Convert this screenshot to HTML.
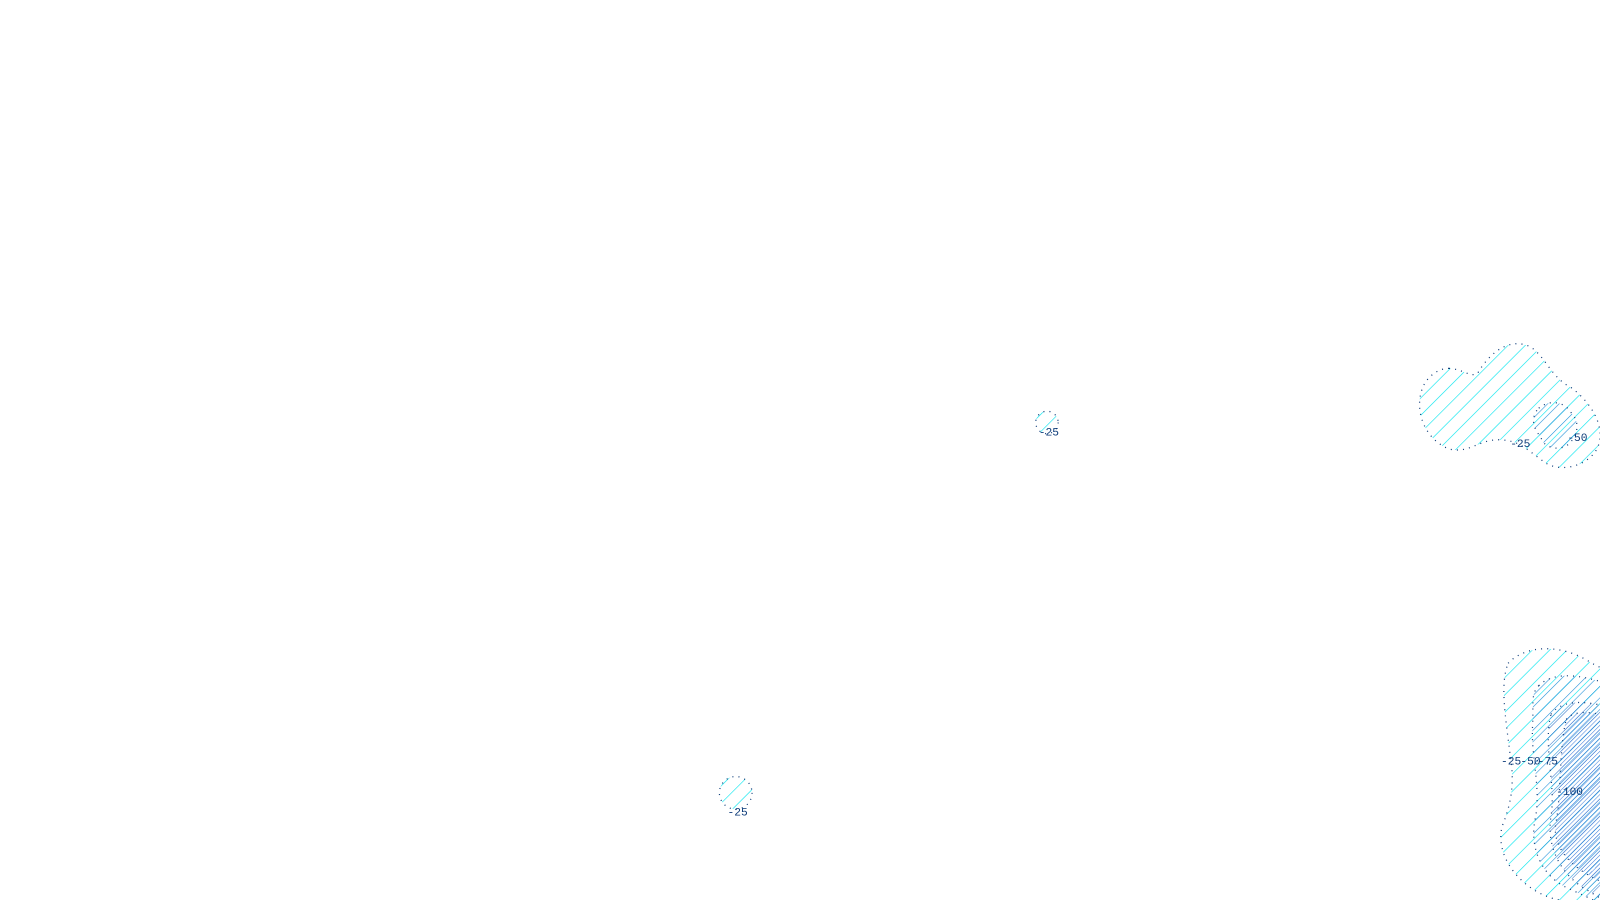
<!DOCTYPE html>
<html><head><meta charset="utf-8"><style>html,body{margin:0;padding:0;background:#fff;overflow:hidden}svg{display:block}</style></head>
<body>
<svg width="1600" height="900" viewBox="0 0 1600 900" xmlns="http://www.w3.org/2000/svg">
<defs>
<pattern id="h1" patternUnits="userSpaceOnUse" width="12" height="12" patternTransform="rotate(45)">
<line x1="0" y1="0" x2="0" y2="12" stroke="#00e5ee" stroke-width="1.2"/></pattern>
<pattern id="h2" patternUnits="userSpaceOnUse" width="8" height="8" patternTransform="rotate(45)">
<line x1="0" y1="0" x2="0" y2="8" stroke="#1e8fd8" stroke-width="1.1"/></pattern>
<pattern id="h3" patternUnits="userSpaceOnUse" width="6" height="6" patternTransform="rotate(45)">
<line x1="0" y1="0" x2="0" y2="6" stroke="#2a6fc8" stroke-width="1"/></pattern>
<pattern id="h4" patternUnits="userSpaceOnUse" width="3" height="3" patternTransform="rotate(45)">
<line x1="0" y1="0" x2="0" y2="3" stroke="#3a7ad8" stroke-width="1"/></pattern>
</defs>
<g transform="scale(1.0204)">
<g stroke="#0b3a78" stroke-width="1.2" stroke-dasharray="1 5">
<circle cx="1026" cy="414" r="11" fill="url(#h1)"/>
<circle cx="721" cy="777" r="16" fill="url(#h1)"/>
<path d="M1420,361 C1435,362 1440,370 1448,366 C1460,345 1480,330 1500,340 C1515,350 1520,370 1540,380 C1560,395 1575,420 1565,440 C1555,458 1525,465 1510,450 C1495,440 1490,432 1470,431 C1450,430 1440,445 1420,440 C1395,430 1385,400 1395,378 C1400,368 1410,361 1420,361 Z" fill="url(#h1)"/>
<path d="M1508,400 C1520,390 1535,395 1540,405 C1550,415 1545,430 1535,437 C1525,442 1512,438 1510,428 C1502,420 1500,408 1508,400 Z" fill="url(#h2)"/>
<path d="M1478,650 C1495,632 1530,630 1560,650 L1600,670 L1600,900 L1520,880 C1490,870 1465,840 1472,810 C1480,790 1485,770 1480,740 C1475,700 1470,670 1478,650 Z" fill="url(#h1)"/>
<path d="M1508,672 C1525,655 1560,662 1600,680 L1600,900 L1540,872 C1510,860 1498,830 1505,800 C1510,770 1500,740 1502,710 C1503,690 1500,680 1508,672 Z" fill="url(#h2)"/>
<path d="M1520,700 C1535,680 1570,690 1600,700 L1600,900 L1555,872 C1530,858 1515,830 1520,800 C1525,770 1512,730 1520,700 Z" fill="url(#h3)"/>
<path d="M1535,705 C1545,692 1575,700 1600,710 L1600,880 L1565,862 C1540,850 1520,830 1525,805 C1530,780 1528,730 1535,705 Z" fill="url(#h4)"/>
</g>
<g font-family="'Liberation Mono',monospace" font-size="11" fill="#0b3a78">
<text x="1018" y="427">-25</text>
<text x="713" y="799">-25</text>
<text x="1480" y="438">-25</text>
<text x="1536" y="432">-50</text>
<text x="1471" y="749">-25</text>
<text x="1490" y="749">-50</text>
<text x="1507" y="749">-75</text>
<text x="1525" y="779">-100</text>
</g>
</g>
</svg>
</body></html>
